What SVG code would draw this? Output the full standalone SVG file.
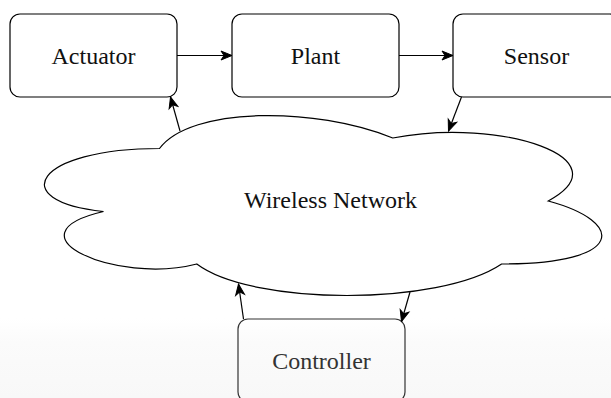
<svg xmlns="http://www.w3.org/2000/svg" width="611" height="398" viewBox="0 0 611 398">
  <defs>
    <linearGradient id="bg" x1="0" y1="0" x2="0" y2="1">
      <stop offset="0" stop-color="#ffffff"/>
      <stop offset="0.8" stop-color="#ffffff"/>
      <stop offset="0.86" stop-color="#fbfbfb"/>
      <stop offset="1" stop-color="#f8f8f8"/>
    </linearGradient>
    <marker id="arr" markerUnits="userSpaceOnUse" markerWidth="14" markerHeight="12" viewBox="0 0 14 12" refX="12.5" refY="6" orient="auto">
      <path d="M1.5,1.5 L12.5,6 L1.5,10.5 L4.5,6 Z" fill="#000" stroke="#000" stroke-width="1"/>
    </marker>
  </defs>
  <style>
    .box { fill: #ffffff; stroke: #000000; stroke-width: 1.2; }
    .lbl { font-family: 'Liberation Serif', 'DejaVu Serif', serif; font-size: 24px; fill: #111111; text-anchor: middle; }
    .conn { fill: none; stroke: #000000; stroke-width: 1.2; marker-end: url(#arr); }
  </style>
  <rect x="0" y="0" width="611" height="398" fill="url(#bg)"/>

  <g id="network">
    <path class="box" d="M159.5,148.5 C35.1,148.5 4,201 103.5,211.5 C4,234.6 116,285 196.8,264 C252.8,306 439.4,306 501.6,264 C626,264 626,222 548.25,201 C626,159 501.6,117 392.75,138 C315,106.5 190.6,106.5 159.5,148.5 Z"/>
    <text class="lbl" x="330.5" y="208">Wireless Network</text>
  </g>

  <g id="actuator">
    <rect class="box" x="10" y="14" width="167" height="83" rx="10" ry="10"/>
    <text class="lbl" x="93.5" y="63.5">Actuator</text>
  </g>

  <g id="plant">
    <rect class="box" x="232" y="14" width="167" height="83" rx="10" ry="10"/>
    <text class="lbl" x="315.5" y="63.5">Plant</text>
  </g>

  <g id="sensor">
    <rect class="box" x="453" y="14" width="167" height="83" rx="10" ry="10"/>
    <text class="lbl" x="536.5" y="63.5">Sensor</text>
  </g>

  <g id="controller">
    <rect class="box" x="238" y="319" width="167" height="83" rx="10" ry="10" style="fill-opacity:0;stroke:#333333"/>
    <text class="lbl" x="321.5" y="368.5" style="fill:#333333">Controller</text>
  </g>

  <g id="connectors">
    <line class="conn" x1="177" y1="55.5" x2="232" y2="55.5"/>
    <line class="conn" x1="399" y1="55.5" x2="453" y2="55.5"/>
    <line class="conn" x1="180" y1="131" x2="170.5" y2="97"/>
    <line class="conn" x1="461.5" y1="97" x2="448.5" y2="131"/>
    <line class="conn" x1="243.5" y1="319" x2="238.5" y2="284"/>
    <line class="conn" x1="410" y1="292" x2="401.5" y2="321.5"/>
  </g>
</svg>
